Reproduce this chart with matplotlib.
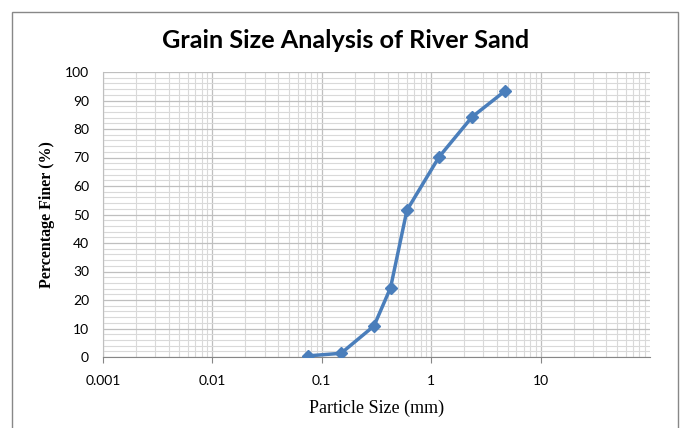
import matplotlib.pyplot as plt
from matplotlib.patches import Rectangle
from matplotlib.ticker import LogLocator, FixedLocator, NullFormatter

# sieve sizes (mm) and percentage finer
sizes = [0.075, 0.15, 0.3, 0.425, 0.6, 1.18, 2.36, 4.75]
finer = [0.4, 1.3, 10.9, 24.3, 51.5, 70.2, 84.2, 93.4]
xtick_labels = ['0.001', '0.01', '0.1', '1', '10']

fig = plt.figure(figsize=(6.81, 4.28), dpi=100)
fig.patches.append(Rectangle((12 / 681, -0.05), 666 / 681, 1 - 12 / 428 + 0.05,
                             transform=fig.transFigure, fill=False,
                             edgecolor='#888888', linewidth=1.0))

ax = fig.add_axes([103 / 681, 1 - 357 / 428, 547 / 681, 285 / 428])
ax.plot(sizes, finer, color='#4a7ebb', linewidth=2.5, marker='D',
        markersize=6, zorder=3)

ax.set_xscale('log')
ax.set_xlim(0.001, 100)
ax.set_ylim(0, 100)

ax.xaxis.set_major_locator(FixedLocator([0.001, 0.01, 0.1, 1, 10]))
ax.set_xticklabels(xtick_labels)
ax.xaxis.set_minor_locator(LogLocator(base=10, subs=range(2, 10), numticks=20))
ax.xaxis.set_minor_formatter(NullFormatter())
ax.set_yticks(range(0, 101, 10))
ax.set_yticks(range(0, 101, 2), minor=True)

ax.grid(which='major', color='#bfbfbf', linewidth=0.9)
ax.grid(which='minor', color='#d9d9d9', linewidth=0.8)
ax.set_axisbelow(True)

for s in ['top', 'right']:
    ax.spines[s].set_visible(False)
ax.spines['left'].set_color('#bfbfbf')
ax.spines['bottom'].set_color('#868686')
ax.tick_params(axis='x', which='major', length=4, color='#868686', pad=9,
               labelsize=10)
ax.tick_params(axis='x', which='minor', length=0)
ax.tick_params(axis='y', which='both', length=0, pad=10, labelsize=10)
for lab in ax.get_xticklabels() + ax.get_yticklabels():
    lab.set_fontfamily('Lato')

ax.set_xlabel('Particle Size (mm)', fontfamily='Liberation Serif', fontsize=13,
              labelpad=9)
ax.set_ylabel('Percentage Finer (%)', fontfamily='Liberation Serif', fontsize=11.5,
              fontweight='bold', labelpad=7)
fig.text(346 / 681, 1 - 41 / 428, 'Grain Size Analysis of River Sand', ha='center',
         va='center', fontfamily='Lato', fontweight='bold', fontsize=18.2)

fig.savefig('out.png', dpi=100)
